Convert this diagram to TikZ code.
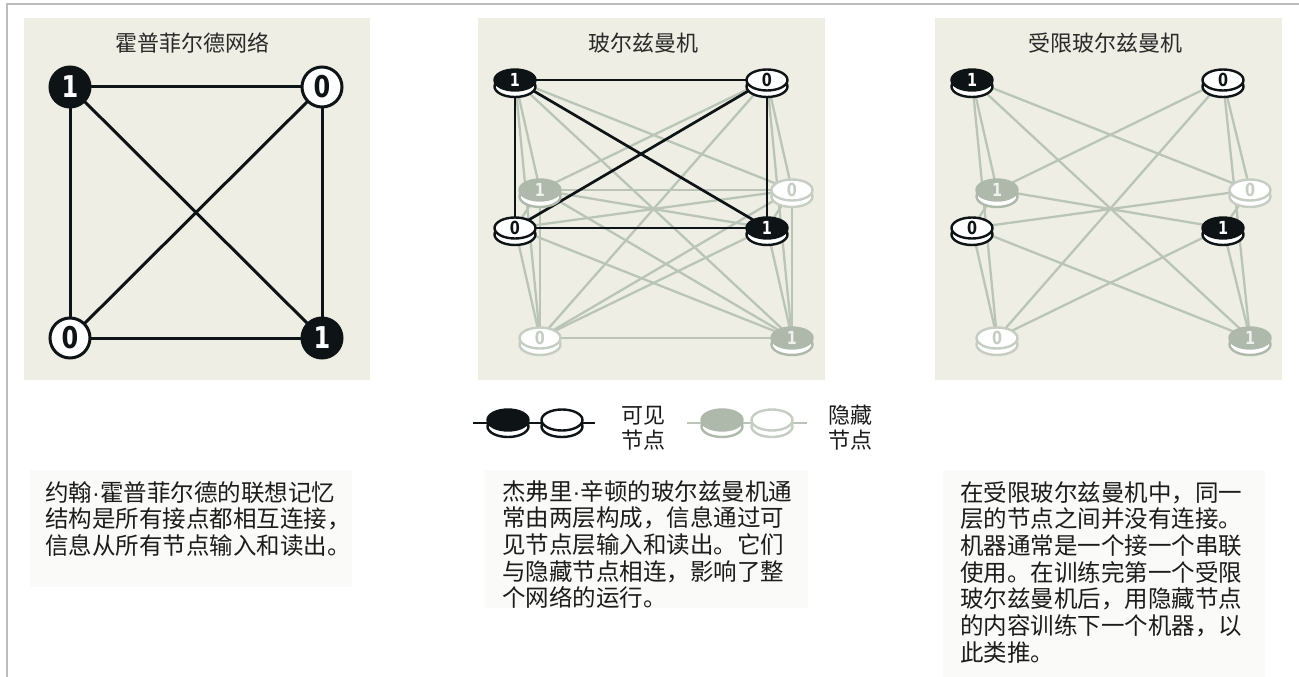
\documentclass[tikz,border=0pt]{standalone}
\usepackage{fontspec}
\setmainfont{Noto Sans CJK SC}
\newfontfamily\numfont[FakeStretch=0.8]{DejaVu Sans}
\newfontfamily\latinfont{Liberation Sans}
\usetikzlibrary{shapes.geometric}
\pgfdeclarelayer{bg}
\pgfdeclarelayer{edges}
\pgfsetlayers{bg,edges,main}
\definecolor{panelbg}{HTML}{EEEEE4}
\definecolor{ink}{HTML}{0E1316}
\definecolor{sage}{HTML}{BAC4B7}
\definecolor{sagefill}{HTML}{AEB9AB}
\definecolor{sageline}{HTML}{C6CDC3}
\definecolor{framegray}{HTML}{BDBDBD}
\definecolor{textgray}{HTML}{1C1C1C}
\definecolor{titlegray}{HTML}{2A2A2A}
\definecolor{boxbg}{HTML}{FAFAF8}
\tikzset{
 hnode/.style={circle, minimum size=40pt, inner sep=0pt, line width=3pt, draw=ink, font=\numfont\bfseries\fontsize{30}{30}\selectfont},
 hone/.style={hnode, fill=ink, text=white},
 hzero/.style={hnode, fill=white, text=ink},
 coin/.style={ellipse, minimum width=41pt, minimum height=21pt, inner sep=0pt, line width=2.4pt, font=\numfont\bfseries\fontsize{18}{18}\selectfont},
 vone/.style={draw=ink, fill=ink, text=white},
 vzero/.style={draw=ink, fill=white, text=ink},
 gone/.style={draw=sagefill, fill=sagefill, text=white!80!sagefill},
 gzero/.style={draw=sageline, fill=white, text=sageline},
 title/.style={font=\fontsize{22}{22}\selectfont, text=titlegray},
 body/.style={font=\fontsize{23.5}{26.7}\selectfont, text=textgray, align=left, anchor=north west, inner sep=0pt},
 legendtext/.style={font=\fontsize{22}{25}\selectfont, text=textgray, align=left, inner sep=0pt},
 panel/.style={fill=panelbg, draw=none},
 textbox/.style={fill=boxbg, draw=none},
 hedge/.style={draw=ink, line width=3pt},
 vedge/.style={draw=ink, line width=2.7pt},
 gedge/.style={draw=sage, line width=2.3pt},
}
\newcommand\coin[5]{%
 \draw[#1, line width=2.4pt, fill=white] (#3,#4+6.5) ellipse[x radius=20.5pt, y radius=10.5pt];
 \node[coin, #1] (#2) at (#3,#4) {#5};
}
\newcommand\mdot{{\latinfont ·}}
\begin{document}
\begin{tikzpicture}[x=1pt,y=-1pt]
\useasboundingbox (0,0) rectangle (1299,677);
\begin{pgfonlayer}{bg}
 \fill[white] (0,0) rectangle (1299,677);
 \draw[framegray, line width=2pt] (7,677) -- (7,4) -- (1299,4);
 \fill[panel] (24,18) rectangle (370,380);
 \fill[panel] (478,18) rectangle (825,380);
 \fill[panel] (935,18) rectangle (1282,380);
 \fill[textbox] (30,470) rectangle (352,587);
 \fill[textbox] (485,470) rectangle (808,608);
 \fill[textbox] (943,470) rectangle (1265,677);
\end{pgfonlayer}

% Panel 1: Hopfield
\node[title] (t1) at (192,43) {霍普菲尔德网络};
\node[hone]  (a1) at (70,87) {1};
\node[hzero] (a2) at (322,87) {0};
\node[hzero] (a3) at (70,338) {0};
\node[hone]  (a4) at (322,338) {1};
\begin{pgfonlayer}{edges}
 \foreach \p/\q in {a1/a2,a1/a3,a1/a4,a2/a3,a2/a4,a3/a4}
  \draw[hedge] (\p.center) -- (\q.center);
\end{pgfonlayer}

% Panel 2: Boltzmann machine
\node[title] (t2) at (643,43) {玻尔兹曼机};
\coin{gone}{c1}{540}{190}{1}
\coin{gzero}{c2}{792}{190}{0}
\coin{gzero}{c3}{540}{338}{0}
\coin{gone}{c4}{792}{338}{1}
\coin{vone}{b1}{515}{80}{1}
\coin{vzero}{b2}{767}{80}{0}
\coin{vzero}{b3}{515}{228}{0}
\coin{vone}{b4}{767}{228}{1}
\begin{pgfonlayer}{edges}
 \foreach \p in {b1,b2,b3,b4}
  \foreach \q in {c1,c2,c3,c4}
   \draw[gedge] (\p.center) -- (\q.center);
 \foreach \p/\q in {c1/c2,c1/c3,c1/c4,c2/c3,c2/c4,c3/c4}
  \draw[gedge] (\p.center) -- (\q.center);
 \foreach \p/\q in {b1/b2,b1/b3,b1/b4,b2/b3,b2/b4,b3/b4}
  \draw[vedge] (\p.center) -- (\q.center);
\end{pgfonlayer}

% Panel 3: restricted Boltzmann machine
\node[title] (t3) at (1105,43) {受限玻尔兹曼机};
\coin{gone}{e1}{997}{190}{1}
\coin{gzero}{e2}{1250}{190}{0}
\coin{gzero}{e3}{997}{338}{0}
\coin{gone}{e4}{1250}{338}{1}
\coin{vone}{d1}{972}{80}{1}
\coin{vzero}{d2}{1223}{80}{0}
\coin{vzero}{d3}{972}{228}{0}
\coin{vone}{d4}{1223}{228}{1}
\begin{pgfonlayer}{edges}
 \foreach \p in {d1,d2,d3,d4}
  \foreach \q in {e1,e2,e3,e4}
   \draw[gedge] (\p.center) -- (\q.center);
\end{pgfonlayer}

% Legend
\coordinate (lv1) at (473,423);
\coordinate (lv2) at (595,423);
\coordinate (lh1) at (687,423);
\coordinate (lh2) at (807,423);
\draw[ink, line width=2pt] (lv1) -- (lv2);
\draw[sage, line width=2pt] (lh1) -- (lh2);
\coin{vone}{lgv1}{508}{420}{}
\coin{vzero}{lgv0}{562}{420}{}
\coin{gone}{lgh1}{722}{420}{}
\coin{gzero}{lgh0}{772}{420}{}
\node[legendtext] (lvt) at (643,428) {可见\\节点};
\node[legendtext] (lht) at (850,428) {隐藏\\节点};

% Captions
\node[body] (cap1) at (45,481) {约翰\mdot 霍普菲尔德的联想记忆\\结构是所有接点都相互连接，\\信息从所有节点输入和读出。};
\node[body] (cap2) at (502,480) {杰弗里\mdot 辛顿的玻尔兹曼机通\\常由两层构成，信息通过可\\见节点层输入和读出。它们\\与隐藏节点相连，影响了整\\个网络的运行。};
\node[body] (cap3) at (960,481) {在受限玻尔兹曼机中，同一\\层的节点之间并没有连接。\\机器通常是一个接一个串联\\使用。在训练完第一个受限\\玻尔兹曼机后，用隐藏节点\\的内容训练下一个机器，以\\此类推。};
\end{tikzpicture}
\end{document}
